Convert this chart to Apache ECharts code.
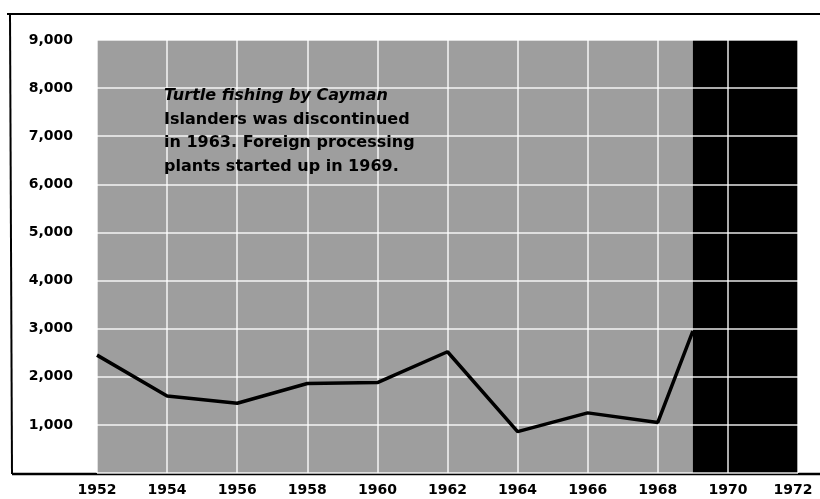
<!DOCTYPE html>
<html><head><meta charset="utf-8">
<script src="https://cdn.jsdelivr.net/npm/echarts@6/dist/echarts.min.js"></script>
<style>html,body{margin:0;padding:0;background:#fff}#c{width:820px;height:499px}</style>
</head><body><div id="c"></div><script>
// Data
const years = [1952, 1954, 1956, 1958, 1960, 1962, 1964, 1966, 1968, 1969];
const catchValues = [2450, 1600, 1450, 1860, 1880, 2520, 860, 1250, 1050, 2950];
const yTicks = [1000, 2000, 3000, 4000, 5000, 6000, 7000, 8000, 9000];
const xTicks = [1952, 1954, 1956, 1958, 1960, 1962, 1964, 1966, 1968, 1970, 1972];
const grayPeriod = [1952, 1969];
const blackPeriod = [1969, 1972];
const noteLines = ['Turtle fishing by Cayman', 'Islanders was discontinued', 'in 1963. Foreign processing', 'plants started up in 1969.'];

const FONT = 'DejaVu Sans';
const chart = echarts.init(document.getElementById('c'), null, {renderer: 'canvas'});

const noteGraphics = noteLines.map((t, i) => ({
  type: 'text', left: 164, top: 88 + i * 23.5, z: 10,
  style: {text: t, font: (i === 0 ? 'italic ' : '') + 'bold 16px "' + FONT + '"', fill: '#000'}
}));

const lastX = xTicks[xTicks.length - 1];

chart.setOption({
  animation: false,
  backgroundColor: '#fff',
  grid: {left: 97, right: 22, top: 40, bottom: 26, containLabel: false, outerBoundsMode: 'none'},
  xAxis: {
    type: 'value', min: xTicks[0], max: lastX, interval: 2, z: 4,
    axisLine: {show: false}, axisTick: {show: false},
    axisLabel: {color: '#000', fontFamily: FONT, fontWeight: 'bold', fontSize: 14, margin: 10,
      formatter: v => !xTicks.includes(v) ? '' : (v === lastX ? '{e|' + v + '}' : String(v)),
      rich: {e: {color: '#000', fontFamily: FONT, fontWeight: 'bold', fontSize: 14, padding: [0, 10, 0, 0]}}},
    splitLine: {show: true, lineStyle: {color: 'rgba(255,255,255,0.9)', width: 1.5}}
  },
  yAxis: {
    type: 'value', min: 0, max: yTicks[yTicks.length - 1], interval: 1000, z: 4,
    axisLine: {show: false}, axisTick: {show: false},
    axisLabel: {color: '#000', fontFamily: FONT, fontWeight: 'bold', fontSize: 14, margin: 24,
      formatter: v => yTicks.includes(v) ? v.toLocaleString('en-US') : ''},
    splitLine: {show: true, lineStyle: {color: 'rgba(255,255,255,0.9)', width: 1.5}}
  },
  series: [
    {
      type: 'line', data: [], z: 1, silent: true,
      markArea: {
        silent: true,
        data: [
          [{xAxis: grayPeriod[0], yAxis: 0, itemStyle: {color: '#9e9e9e'}}, {xAxis: grayPeriod[1], yAxis: 9000}],
          [{xAxis: blackPeriod[0], yAxis: 0, itemStyle: {color: '#000000'}}, {xAxis: blackPeriod[1], yAxis: 9000}]
        ]
      }
    },
    {
      type: 'line', data: years.map((y, i) => [y, catchValues[i]]), z: 6,
      symbol: 'none', lineStyle: {color: '#000', width: 3.5}
    }
  ],
  graphic: [
    {type: 'line', shape: {x1: 7, y1: 14, x2: 820, y2: 14}, style: {stroke: '#000', lineWidth: 2}},
    {type: 'line', shape: {x1: 10, y1: 14, x2: 12, y2: 474}, style: {stroke: '#000', lineWidth: 2}},
    {type: 'line', shape: {x1: 12, y1: 474, x2: 820, y2: 474}, style: {stroke: '#000', lineWidth: 2.5}},
    ...noteGraphics
  ]
});
</script></body></html>
